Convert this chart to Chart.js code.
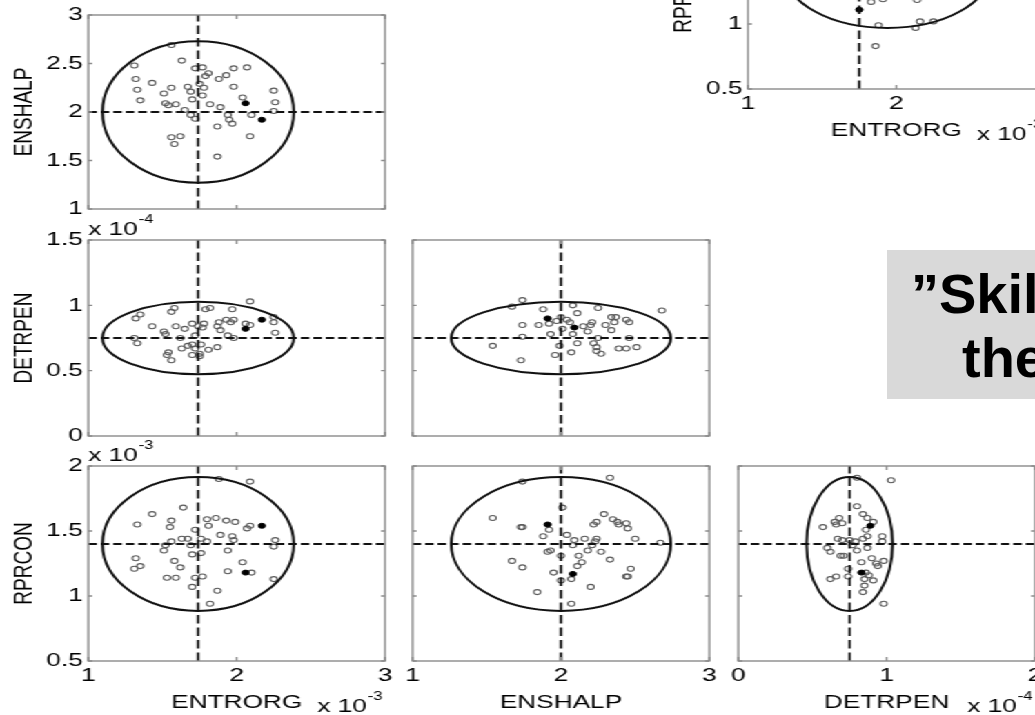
<!DOCTYPE html>
<html>
<head>
<meta charset="utf-8">
<script src="https://cdn.jsdelivr.net/npm/chart.js@4.4.1/dist/chart.umd.min.js"></script>
<style>
  html, body { margin: 0; padding: 0; background: #fff; }
  body { position: relative; width: 1035px; height: 715px; overflow: hidden; }
  #fig { position: absolute; left: 0; top: 0; width: 800px; height: 715px;
         transform: scaleX(1.38); transform-origin: 0 0; }
  #fig canvas { position: absolute; }
  #note { position: absolute; left: 887px; top: 250px; width: 170px; height: 149px; background: #d9d9d9; }
  .noteLine { position: absolute; font: bold 56px "Liberation Sans", Arial, Helvetica, sans-serif;
              line-height: 64px; white-space: nowrap; color: #000; }
</style>
</head>
<body>
<div id="fig"></div>
<div id="note"></div>
<div class="noteLine" style="left:911px; top:262px;">”Skill</div>
<div class="noteLine" style="left:962px; top:326px;">the</div>

<script>
// The printed figure is stretched horizontally; the panels are laid out
// in an unstretched layer that is widened by this factor.
const STRETCH = 1.38;
const FONT = '"Liberation Sans", Arial, Helvetica, sans-serif';
const FONT_SIZE = 19;

// ---- axis ranges and tick values (ENTRORG x1e-3, DETRPEN x1e-4, RPRCON x1e-3) ----
const rangeEntrorg = [1, 3];
const rangeEnshalp = [1, 3];
const rangeDetrpen = [0, 1.5];
const rangeDetrpenX = [0, 2];
const rangeRprcon = [0.5, 2];

const ticksEntrorg = [1, 2, 3];
const ticksEnshalpX = [1, 2, 3];
const ticksDetrpenX = [0, 1, 2];
const ticksEnshalp = [1, 1.5, 2, 2.5, 3];
const ticksDetrpen = [0, 0.5, 1, 1.5];
const ticksRprcon = [0.5, 1, 1.5, 2];

// ---- ensemble members [x, y] and the two highlighted members, per parameter pair ----
const entrorgEnshalp = [[1.56,2.69],[1.31,2.48],[1.32,2.34],[1.33,2.23],[1.35,2.12],[1.43,2.30],[1.51,2.19],
  [1.56,2.25],[1.52,2.09],[1.54,2.07],[1.59,2.08],[1.63,2.53],[1.67,2.26],[1.69,2.21],[1.70,2.13],[1.65,2.02],
  [1.69,1.97],[1.72,1.93],[1.72,2.45],[1.77,2.46],[1.81,2.40],[1.79,2.37],[1.75,2.29],[1.78,2.25],[1.77,2.17],
  [1.82,2.08],[1.88,2.34],[1.93,2.38],[1.98,2.45],[2.07,2.46],[1.98,2.26],[2.04,2.15],[2.10,1.97],[2.25,2.22],
  [2.26,2.10],[2.25,2.01],[1.89,2.05],[1.94,1.97],[1.95,1.92],[1.97,1.88],[1.87,1.85],[2.09,1.75],[1.56,1.74],
  [1.62,1.75],[1.58,1.67],[1.87,1.54]];
const entrorgEnshalpMarked = [[2.06,2.09],[2.17,1.92]];

const entrorgDetrpen = [[1.32,0.90],[1.35,0.93],[1.31,0.75],[1.33,0.71],[1.43,0.84],[1.51,0.80],[1.52,0.78],
  [1.56,0.95],[1.58,0.98],[1.59,0.84],[1.65,0.82],[1.62,0.75],[1.70,0.86],[1.74,0.84],[1.54,0.64],[1.53,0.62],
  [1.56,0.58],[1.63,0.67],[1.67,0.69],[1.70,0.70],[1.72,0.67],[1.70,0.62],[1.75,0.63],[1.75,0.61],[1.81,0.66],
  [1.87,0.68],[1.79,0.97],[1.82,0.98],[1.78,0.86],[1.77,0.83],[1.87,0.84],[1.88,0.87],[1.89,0.81],[1.93,0.89],
  [1.96,0.87],[1.98,0.89],[1.97,0.97],[1.94,0.77],[1.98,0.75],[2.06,0.86],[2.09,0.85],[2.09,1.03],[2.25,0.91],
  [2.25,0.87],[2.26,0.79],[1.72,0.77],[1.76,0.70]];
const entrorgDetrpenMarked = [[2.06,0.82],[2.17,0.89]];

const enshalpDetrpen = [[1.74,1.04],[1.67,0.99],[1.88,0.97],[2.08,1.00],[2.11,0.94],[2.25,0.98],[2.68,0.96],
  [2.00,0.91],[2.04,0.89],[2.06,0.87],[1.92,0.86],[1.85,0.85],[1.74,0.85],[2.01,0.82],[1.97,0.88],[2.15,0.84],
  [2.18,0.80],[2.21,0.87],[2.20,0.85],[2.30,0.85],[2.34,0.91],[2.37,0.91],[2.36,0.87],[2.34,0.81],[2.44,0.89],
  [2.46,0.87],[2.08,0.78],[1.93,0.78],[1.74,0.76],[2.25,0.75],[2.46,0.75],[1.54,0.69],[1.99,0.69],[2.11,0.71],
  [2.22,0.71],[2.24,0.68],[2.24,0.65],[2.27,0.63],[2.39,0.67],[2.44,0.67],[2.51,0.68],[2.07,0.64],[1.96,0.62],
  [1.73,0.58]];
const enshalpDetrpenMarked = [[1.91,0.90],[2.09,0.83]];

const entrorgRprcon = [[1.88,1.90],[2.09,1.88],[1.64,1.68],[1.43,1.63],[1.33,1.55],[1.56,1.58],[1.55,1.53],
  [1.72,1.51],[1.80,1.59],[1.81,1.54],[1.86,1.60],[1.93,1.58],[1.99,1.57],[2.07,1.52],[2.09,1.54],[1.89,1.47],
  [1.97,1.46],[1.98,1.43],[1.76,1.44],[1.80,1.42],[2.26,1.43],[2.25,1.38],[1.63,1.44],[1.67,1.44],[1.56,1.42],
  [1.52,1.39],[1.51,1.35],[1.69,1.39],[1.70,1.32],[1.76,1.33],[1.94,1.35],[1.32,1.29],[1.35,1.23],[1.31,1.21],
  [1.58,1.27],[1.62,1.22],[2.04,1.26],[1.94,1.19],[2.10,1.18],[1.53,1.14],[1.59,1.14],[1.77,1.15],[1.72,1.14],
  [1.70,1.07],[1.87,1.04],[2.25,1.13],[1.82,0.94]];
const entrorgRprconMarked = [[2.17,1.54],[2.06,1.18]];

const enshalpRprcon = [[1.74,1.88],[2.33,1.91],[2.01,1.68],[1.54,1.60],[1.73,1.53],[1.74,1.53],[1.92,1.51],
  [1.88,1.46],[2.04,1.47],[2.09,1.43],[2.16,1.44],[2.22,1.55],[2.24,1.57],[2.29,1.63],[2.35,1.59],[2.38,1.57],
  [2.44,1.56],[2.39,1.55],[2.45,1.52],[2.24,1.44],[2.23,1.42],[2.50,1.44],[2.67,1.41],[2.21,1.39],[2.18,1.35],
  [2.08,1.39],[1.93,1.35],[1.91,1.34],[2.00,1.31],[2.12,1.31],[2.14,1.26],[2.11,1.23],[2.27,1.34],[2.33,1.28],
  [1.67,1.27],[1.74,1.22],[1.95,1.18],[2.07,1.13],[2.00,1.12],[2.47,1.21],[2.44,1.15],[2.45,1.15],[2.20,1.07],
  [1.84,1.03],[2.07,0.94]];
const enshalpRprconMarked = [[1.91,1.55],[2.08,1.17]];

const detrpenRprcon = [[0.80,1.91],[1.03,1.89],[0.80,1.69],[0.84,1.63],[0.87,1.60],[0.91,1.57],[0.86,1.51],
  [0.68,1.60],[0.65,1.57],[0.66,1.55],[0.70,1.56],[0.57,1.53],[0.67,1.44],[0.70,1.43],[0.75,1.43],[0.79,1.42],
  [0.84,1.44],[0.87,1.46],[0.97,1.46],[0.97,1.42],[0.60,1.37],[0.62,1.34],[0.77,1.39],[0.87,1.37],[0.80,1.35],
  [0.69,1.31],[0.71,1.31],[0.83,1.26],[0.90,1.29],[0.98,1.27],[0.94,1.23],[0.93,1.25],[0.74,1.21],[0.86,1.18],
  [0.88,1.16],[0.74,1.15],[0.62,1.13],[0.66,1.15],[0.85,1.13],[0.91,1.12],[0.85,1.08],[0.84,1.03],[0.98,0.94]];
const detrpenRprconMarked = [[0.89,1.54],[0.83,1.18]];

const entrorgRprconAlt = [[1.83,1.17],[1.91,1.19],[2.14,1.185],[1.88,0.99],[2.13,0.97],[2.16,1.02],[2.25,1.02],[1.86,0.83]];
const entrorgRprconAltMarked = [[1.75,1.11]];

// ---- reference values (dashed cross) and ellipse [cx, cy, rx, ry] per pair ----
const refEntrorgEnshalp = [1.74, 2.0];   const ellEntrorgEnshalp = [1.74, 2.0, 0.645, 0.73];
const refEntrorgDetrpen = [1.74, 0.75];  const ellEntrorgDetrpen = [1.74, 0.75, 0.645, 0.277];
const refEnshalpDetrpen = [2.0, 0.75];   const ellEnshalpDetrpen = [2.0, 0.75, 0.74, 0.277];
const refEntrorgRprcon = [1.74, 1.40];   const ellEntrorgRprcon = [1.74, 1.40, 0.645, 0.515];
const refEnshalpRprcon = [2.0, 1.40];    const ellEnshalpRprcon = [2.0, 1.40, 0.74, 0.515];
const refDetrpenRprcon = [0.75, 1.40];   const ellDetrpenRprcon = [0.75, 1.40, 0.29, 0.515];
const refEntrorgRprconAlt = [1.75, 1.40]; const ellEntrorgRprconAlt = [1.94, 1.40, 0.69, 0.43];

// ---- panel layout: plot box in page pixels [left, top, right, bottom] ----
const panels = [
  { box: [88, 15, 385, 209], xr: rangeEntrorg, yr: rangeEnshalp, xt: ticksEntrorg, yt: ticksEnshalp,
    pts: entrorgEnshalp, marked: entrorgEnshalpMarked, ref: refEntrorgEnshalp, ell: ellEntrorgEnshalp,
    showY: true, yTitle: 'ENSHALP' },
  { box: [88, 240, 385, 436], xr: rangeEntrorg, yr: rangeDetrpen, xt: ticksEntrorg, yt: ticksDetrpen,
    pts: entrorgDetrpen, marked: entrorgDetrpenMarked, ref: refEntrorgDetrpen, ell: ellEntrorgDetrpen,
    showY: true, yTitle: 'DETRPEN', yExp: '-4' },
  { box: [412, 240, 710, 436], xr: rangeEnshalp, yr: rangeDetrpen, xt: ticksEnshalpX, yt: ticksDetrpen,
    pts: enshalpDetrpen, marked: enshalpDetrpenMarked, ref: refEnshalpDetrpen, ell: ellEnshalpDetrpen },
  { box: [88, 466, 385, 661], xr: rangeEntrorg, yr: rangeRprcon, xt: ticksEntrorg, yt: ticksRprcon,
    pts: entrorgRprcon, marked: entrorgRprconMarked, ref: refEntrorgRprcon, ell: ellEntrorgRprcon,
    showY: true, yTitle: 'RPRCON', yExp: '-3', showX: true, xTitle: 'ENTRORG', xExp: '-3' },
  { box: [412, 466, 710, 661], xr: rangeEnshalp, yr: rangeRprcon, xt: ticksEnshalpX, yt: ticksRprcon,
    pts: enshalpRprcon, marked: enshalpRprconMarked, ref: refEnshalpRprcon, ell: ellEnshalpRprcon,
    showX: true, xTitle: 'ENSHALP' },
  { box: [738, 466, 1035, 661], xr: rangeDetrpenX, yr: rangeRprcon, xt: ticksDetrpenX, yt: ticksRprcon,
    pts: detrpenRprcon, marked: detrpenRprconMarked, ref: refDetrpenRprcon, ell: ellDetrpenRprcon,
    showX: true, xTitle: 'DETRPEN', xExp: '-4' },
  { box: [748, -106, 1045, 89], xr: rangeEntrorg, yr: rangeRprcon, xt: ticksEntrorg, yt: ticksRprcon,
    pts: entrorgRprconAlt, marked: entrorgRprconAltMarked, ref: refEntrorgRprconAlt, ell: ellEntrorgRprconAlt,
    showY: true, yTitle: 'RPRCON', showX: true, xTitle: 'ENTRORG', xExp: '-3' }
];

// Ellipse, axes frame with inward ticks, and "x 10^n" scale labels.
const panelDecor = {
  id: 'panelDecor',
  afterDatasetsDraw(chart, args, o) {
    const { ctx, chartArea: a, scales: { x, y } } = chart;
    const e = o.ellipse;
    ctx.save();
    ctx.beginPath(); ctx.rect(a.left, a.top, a.width, a.height); ctx.clip();
    const cx = x.getPixelForValue(e[0]), cy = y.getPixelForValue(e[1]);
    const rx = x.getPixelForValue(e[0] + e[2]) - cx;
    const ry = cy - y.getPixelForValue(e[1] + e[3]);
    ctx.beginPath(); ctx.ellipse(cx, cy, rx, ry, 0, 0, Math.PI * 2);
    ctx.strokeStyle = '#111'; ctx.lineWidth = 2; ctx.stroke();
    ctx.restore();

    ctx.save();
    ctx.strokeStyle = '#8a8a8a'; ctx.lineWidth = 1.4;
    ctx.strokeRect(a.left, a.top, a.width, a.height);
    ctx.beginPath();
    o.xTicks.forEach(v => {
      const px = x.getPixelForValue(v);
      ctx.moveTo(px, a.bottom); ctx.lineTo(px, a.bottom - 4);
      ctx.moveTo(px, a.top); ctx.lineTo(px, a.top + 4);
    });
    o.yTicks.forEach(v => {
      const py = y.getPixelForValue(v);
      ctx.moveTo(a.left, py); ctx.lineTo(a.left + 4 / STRETCH, py);
      ctx.moveTo(a.right, py); ctx.lineTo(a.right - 4 / STRETCH, py);
    });
    ctx.stroke();
    ctx.restore();
  },
  afterDraw(chart, args, o) {
    const { ctx, chartArea: a } = chart;
    const exponent = (x0, base, exp) => {
      ctx.save();
      ctx.fillStyle = '#000'; ctx.textAlign = 'left'; ctx.textBaseline = 'alphabetic';
      ctx.font = FONT_SIZE + 'px ' + FONT;
      ctx.fillText('x 10', x0, base);
      const w = ctx.measureText('x 10').width;
      ctx.font = '12px ' + FONT;
      ctx.fillText(exp, x0 + w + 0.5, base - 12);
      ctx.restore();
    };
    if (o.yExp) exponent(a.left, a.top - 5, o.yExp);
    if (o.xExp) exponent(a.right - 49, a.bottom + 51, o.xExp);
  }
};

const fig = document.getElementById('fig');
const ML = 58, MR = 14, MT = 30, MB = 53;

panels.forEach(p => {
  const bl = Math.round(p.box[0] / STRETCH), br = Math.round(p.box[2] / STRETCH);
  const bt = p.box[1], bb = p.box[3];
  const cv = document.createElement('canvas');
  cv.width = br - bl + ML + MR;
  cv.height = bb - bt + MT + MB;
  cv.style.left = (bl - ML) + 'px';
  cv.style.top = (bt - MT) + 'px';
  cv.style.width = cv.width + 'px';
  cv.style.height = cv.height + 'px';
  fig.appendChild(cv);

  const toXY = arr => arr.map(d => ({ x: d[0], y: d[1] }));
  const axisFont = { family: FONT, size: FONT_SIZE };

  new Chart(cv, {
    type: 'scatter',
    data: {
      datasets: [
        { data: [{ x: p.ref[0], y: p.yr[0] }, { x: p.ref[0], y: p.yr[1] }], showLine: true,
          borderColor: '#111', borderWidth: 1.8, borderDash: [8.5, 4], pointRadius: 0 },
        { data: [{ x: p.xr[0], y: p.ref[1] }, { x: p.xr[1], y: p.ref[1] }], showLine: true,
          borderColor: '#111', borderWidth: 1.8, borderDash: [8.5 / STRETCH, 4 / STRETCH], pointRadius: 0 },
        { data: toXY(p.marked), pointRadius: 2.5, pointBackgroundColor: '#000',
          pointBorderColor: '#000', pointBorderWidth: 1 },
        { data: toXY(p.pts), pointRadius: 2.5, pointBackgroundColor: 'rgba(255,255,255,0)',
          pointBorderColor: '#5a5a5a', pointBorderWidth: 1.1 }
      ]
    },
    options: {
      responsive: false,
      animation: false,
      events: [],
      layout: { padding: { left: 0, top: MT, right: MR, bottom: 0 } },
      plugins: {
        legend: { display: false },
        tooltip: { enabled: false },
        panelDecor: { ellipse: p.ell, xTicks: p.xt, yTicks: p.yt, yExp: p.yExp, xExp: p.xExp }
      },
      scales: {
        x: {
          type: 'linear', min: p.xr[0], max: p.xr[1],
          afterBuildTicks: s => { s.ticks = p.xt.map(v => ({ value: v })); },
          afterFit: s => { s.height = MB; },
          grid: { display: false, drawTicks: false },
          border: { display: false },
          ticks: { display: !!p.showX, padding: 3, color: '#000', font: axisFont,
                   maxRotation: 0, autoSkip: false, callback: v => String(v) },
          title: { display: !!p.xTitle, text: p.xTitle || '', color: '#000', font: axisFont, padding: 0 }
        },
        y: {
          type: 'linear', min: p.yr[0], max: p.yr[1],
          afterBuildTicks: s => { s.ticks = p.yt.map(v => ({ value: v })); },
          afterFit: s => { s.width = ML; },
          grid: { display: false, drawTicks: false },
          border: { display: false },
          ticks: { display: !!p.showY, padding: 4, color: '#000', font: axisFont,
                   autoSkip: false, callback: v => String(v) },
          title: { display: !!p.yTitle, text: p.yTitle || '', color: '#000', font: axisFont, padding: 0 }
        }
      }
    },
    plugins: [panelDecor]
  });
});
</script>
</body>
</html>
